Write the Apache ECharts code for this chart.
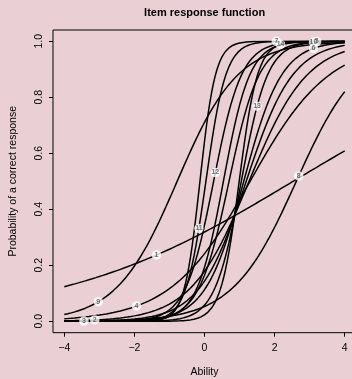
<!DOCTYPE html>
<html>
<head>
<meta charset="utf-8">
<script src="https://cdn.jsdelivr.net/npm/echarts@6/dist/echarts.min.js"></script>
<style>
  html, body { margin: 0; padding: 0; background: #ead0d5; }
  #chart { width: 352px; height: 379px; }
</style>
</head>
<body>
<div id="chart"></div>
<script>
// item parameters (2PL: slope a, location b)
const items = ["1", "2", "3", "4", "5", "6", "7", "8", "9", "10", "11", "12", "13", "14"];
const slopes = [0.30, 1.20, 1.50, 0.88, 2.65, 1.84, 4.5, 1.10, 1.15, 2.32, 3.5, 2.5, 2.66, 3.8];
const locations = [2.53, 1.27, 1.19, 1.30, 0.54, 1.12, -0.13, 2.62, -0.78, 0.70, 0.04, 0.26, 1.05, 0.99];
// ability where each item's tag sits on its curve
const tagAbility = [-1.37, -3.13, -3.44, -1.94, 3.2, 3.11, 2.05, 2.69, -3.03, 3.11, -0.16, 0.31, 1.5, 2.17];
const abilityTicks = [-4, -2, 0, 2, 4];
const probTicks = [0, 0.2, 0.4, 0.6, 0.8, 1.0];

const irf = (a, b, x) => 1 / (1 + Math.exp(-a * (x - b)));

const grid = [];
for (let i = 0; i <= 160; i++) grid.push(-4 + i * 0.05);

const curveSeries = items.map((name, i) => ({
  type: "line",
  name: "item " + name,
  data: grid.map(x => [x, irf(slopes[i], locations[i], x)]),
  showSymbol: false,
  lineStyle: { color: "#000", width: 1.5 },
  z: 2,
  silent: true,
}));

const tagSeries = {
  type: "scatter",
  data: items.map((name, i) => ({
    value: [tagAbility[i], irf(slopes[i], locations[i], tagAbility[i])],
    name: name,
  })),
  symbolSize: 9.5,
  itemStyle: { color: "#fff" },
  label: {
    show: true,
    position: "inside",
    formatter: p => p.name,
    fontSize: 7,
    fontWeight: "bold",
    color: "#4d4d4d",
    fontFamily: "Liberation Sans",
  },
  z: 5,
};

const font = "Liberation Sans";
const chart = echarts.init(document.getElementById("chart"), null, { renderer: "canvas" });
chart.setOption({
  animation: false,
  backgroundColor: "#ead0d5",
  textStyle: { fontFamily: font },
  grid: { left: 64.3, right: 7.3, top: 41.3, bottom: 57.7, outerBoundsMode: "none", containLabel: false },
  xAxis: {
    type: "value",
    min: abilityTicks[0],
    max: abilityTicks[abilityTicks.length - 1],
    interval: 2,
    offset: 11.4,
    axisLine: { show: false, onZero: false },
    axisTick: { show: true, length: 4, lineStyle: { color: "#000" } },
    splitLine: { show: false },
    axisLabel: {
      color: "#000", fontSize: 10.5, margin: 10,
      formatter: v => String(v).replace("-", "\u2212"),
    },
    name: "Ability",
    nameLocation: "middle",
    nameGap: 34,
    nameTextStyle: { color: "#000", fontSize: 10.5 },
  },
  yAxis: {
    type: "value",
    min: probTicks[0],
    max: probTicks[probTicks.length - 1],
    interval: 0.2,
    offset: 11.3,
    axisLine: { show: false, onZero: false },
    axisTick: { show: true, length: 4, lineStyle: { color: "#000" } },
    splitLine: { show: false },
    axisLabel: {
      color: "#000", fontSize: 10.5, margin: 8, rotate: 90,
      formatter: v => v.toFixed(1),
    },
    name: "Probability of a correct response",
    nameLocation: "middle",
    nameGap: 34,
    nameRotate: 90,
    nameTextStyle: { color: "#000", fontSize: 10.5 },
  },
  graphic: [
    {
      type: "rect",
      shape: { x: 53, y: 30, width: 310, height: 302.7 },
      style: { fill: null, stroke: "#000", lineWidth: 1 },
      silent: true,
      z: 10,
    },
    {
      type: "text",
      x: 204.6,
      y: 13,
      style: {
        text: "Item response function",
        fontSize: 11,
        fontWeight: "bold",
        fontFamily: font,
        fill: "#000",
        align: "center",
        verticalAlign: "middle",
      },
    },
  ],
  series: [...curveSeries, tagSeries],
});
</script>
</body>
</html>
